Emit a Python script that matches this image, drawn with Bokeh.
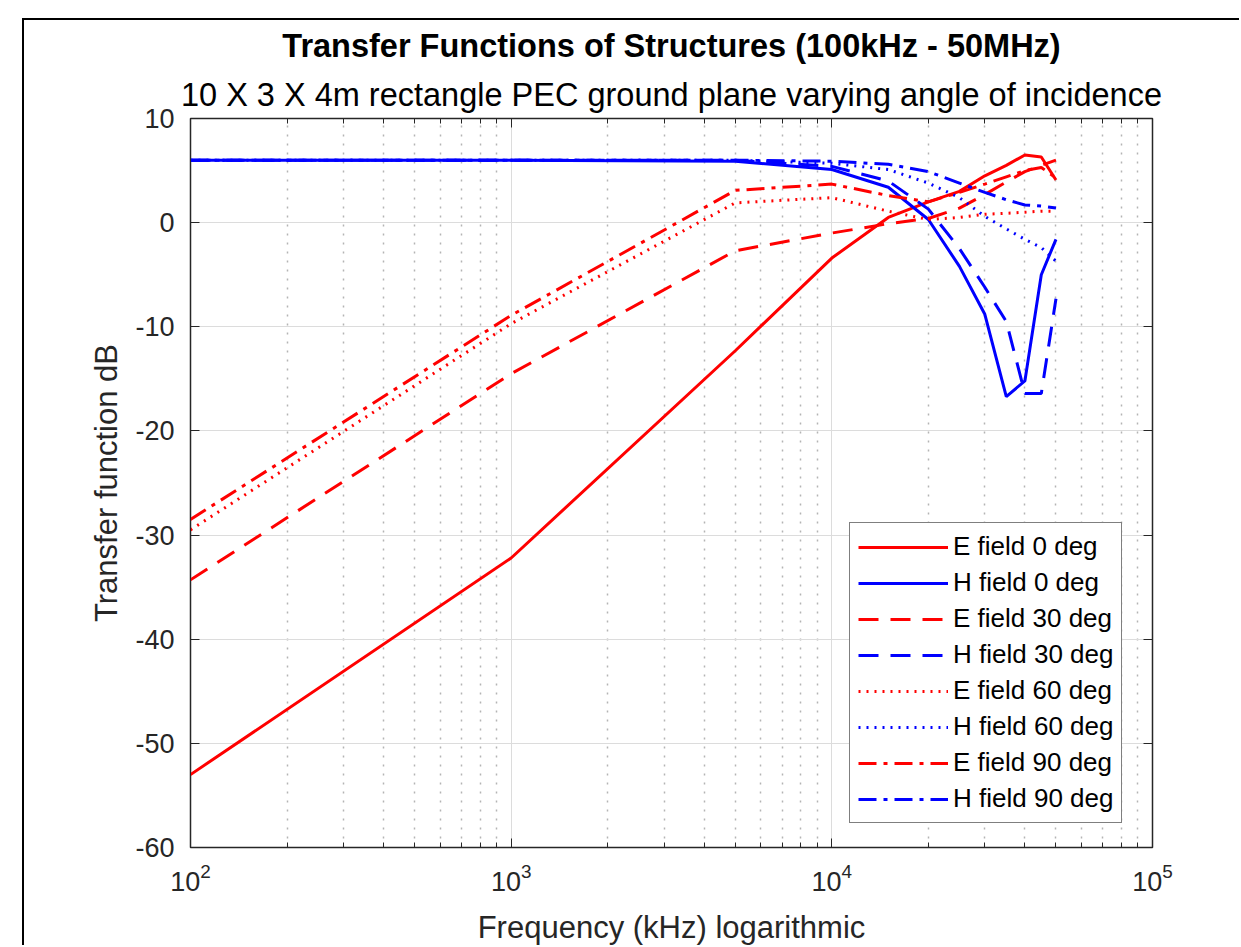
from bokeh.plotting import figure
from bokeh.models import (LogAxis, LinearAxis, FixedTicker, Legend, LegendItem,
                          Title, Range1d, CustomJSTickFormatter)
from bokeh.embed import file_html
from bokeh.resources import INLINE

# ---- data (frequency in kHz, transfer function in dB) ----
freq_khz = [100, 1000, 5000, 10000, 15000, 20000, 25000, 30000, 35000, 40000, 45000, 50000]
e_0deg  = [-53.0, -32.2, -12.3, -3.4, 0.5, 2.0, 3.0, 4.5, 5.5, 6.5, 6.3, 4.1]
h_0deg  = [6.0, 6.0, 5.9, 5.1, 3.4, 0.3, -4.2, -8.8, -16.7, -15.2, -5.0, -1.6]
e_30deg = [-34.3, -14.5, -2.7, -1.0, -0.1, 0.4, 1.4, 2.7, 3.9, 4.9, 5.5, 6.0]
h_30deg = [6.0, 6.0, 6.0, 5.4, 4.0, 1.3, -2.5, -6.2, -9.5, -16.4, -16.4, -7.3]
e_60deg = [-29.5, -9.7, 1.9, 2.4, 1.1, 0.3, 0.5, 0.8, 0.9, 1.0, 1.1, 1.1]
h_60deg = [6.0, 6.0, 6.0, 5.7, 5.1, 3.8, 2.4, 0.6, -0.6, -1.6, -2.4, -3.7]
e_90deg = [-28.5, -8.9, 3.1, 3.7, 2.6, 2.0, 2.9, 3.7, 4.4, 5.0, 5.3, 4.3]
h_90deg = [6.0, 6.0, 6.0, 5.9, 5.6, 4.9, 3.8, 2.9, 2.2, 1.7, 1.6, 1.4]

series_labels = ["E field 0 deg", "H field 0 deg", "E field 30 deg", "H field 30 deg",
                 "E field 60 deg", "H field 60 deg", "E field 90 deg", "H field 90 deg"]

x_major = [100, 1000, 10000, 100000]
x_minor = [m * d for d in [100, 1000, 10000] for m in range(2, 10)]
y_major = [-60, -50, -40, -30, -20, -10, 0, 10]

FONT = "Liberation Sans"
TXT = "#262626"

p = figure(width=1217, height=927, x_axis_type="log",
           x_range=Range1d(100, 100000), y_range=Range1d(-60, 10),
           output_backend="svg", toolbar_location=None,
           min_border_left=166, min_border_right=89, min_border_top=97, min_border_bottom=98,
           background_fill_color="white", border_fill_color="white")
p.margin = (18, 0, 0, 22)
p.styles = {"border-top": "2px solid black", "border-left": "2px solid black"}

p.outline_line_color = TXT
p.outline_line_width = 1.5

# axes
xt = FixedTicker(ticks=x_major, minor_ticks=x_minor)
yt = FixedTicker(ticks=y_major)
p.xaxis.ticker = xt
p.yaxis.ticker = yt

for ax in p.xaxis + p.yaxis:
    ax.major_tick_in = 9
    ax.major_tick_out = 0
    ax.minor_tick_in = 5
    ax.minor_tick_out = 0
    ax.axis_line_color = TXT
    ax.major_tick_line_color = TXT
    ax.minor_tick_line_color = TXT
    ax.major_label_text_font = FONT
    ax.major_label_text_font_size = "27px"
    ax.major_label_text_color = TXT
    ax.axis_label_text_font = FONT
    ax.axis_label_text_font_size = "31px"
    ax.axis_label_text_font_style = "normal"
    ax.axis_label_text_color = TXT

p.xaxis.major_label_standoff = 15
p.xaxis.axis_label_standoff = 16
p.yaxis.major_label_standoff = 16
p.yaxis.axis_label_standoff = 8
p.yaxis.major_label_overrides = {v: str(v) for v in y_major}

p.xaxis.axis_label = "Frequency (kHz) logarithmic"
p.yaxis.axis_label = "Transfer function dB"
p.yaxis.minor_tick_line_color = None

blank = CustomJSTickFormatter(code="return ''")
top_ax = LogAxis(ticker=xt, formatter=blank, major_tick_in=9, major_tick_out=0,
                 minor_tick_in=5, minor_tick_out=0, axis_line_color=TXT,
                 major_tick_line_color=TXT, minor_tick_line_color=TXT, major_label_standoff=0)
right_ax = LinearAxis(ticker=yt, formatter=blank, major_tick_in=9, major_tick_out=0,
                      minor_tick_line_color=None, axis_line_color=TXT,
                      major_tick_line_color=TXT, major_label_standoff=0)
p.add_layout(top_ax, "above")
p.add_layout(right_ax, "right")

# grids
p.xgrid.grid_line_color = "#dcdcdc"
p.xgrid.grid_line_width = 1
p.xgrid.minor_grid_line_color = "#b4b4b4"
p.xgrid.minor_grid_line_dash = "2 7"
p.xgrid.minor_grid_line_width = 1.5
p.ygrid.grid_line_color = "#dcdcdc"
p.ygrid.grid_line_width = 1

# titles (subtitle first = closest to the frame)
p.add_layout(Title(text="10 X 3 X 4m rectangle PEC ground plane varying angle of incidence",
                   align="center", text_font=FONT, text_font_size="32.5px",
                   text_font_style="normal", text_color="black", standoff=12), "above")
p.add_layout(Title(text="Transfer Functions of Structures (100kHz - 50MHz)",
                   align="center", text_font=FONT, text_font_size="32.5px",
                   text_font_style="bold", text_color="black", standoff=10), "above")

RED = "#ff0000"
BLUE = "#0000ff"
styles = [
    (e_0deg, RED, "solid"), (h_0deg, BLUE, "solid"),
    (e_30deg, RED, "20 12"), (h_30deg, BLUE, "20 12"),
    (e_60deg, RED, "2 6"), (h_60deg, BLUE, "2 6"),
    (e_90deg, RED, "18 7 4 7"), (h_90deg, BLUE, "18 7 4 7"),
]
items = []
for (ys, col, dash), lab in zip(styles, series_labels):
    r = p.line(freq_khz, ys, line_color=col, line_width=3, line_dash=dash)
    items.append(LegendItem(label=lab, renderers=[r]))

legend = Legend(items=items, location=(659, 24), orientation="vertical",
                label_text_font=FONT, label_text_font_size="26px", label_text_color="black",
                glyph_width=90, glyph_height=30, label_height=30, label_standoff=5,
                spacing=5, padding=8, margin=0,
                border_line_color="black", border_line_width=1.5,
                background_fill_color="white", background_fill_alpha=1)
p.add_layout(legend, "center")

open("out.html", "w").write(file_html(p, INLINE))
